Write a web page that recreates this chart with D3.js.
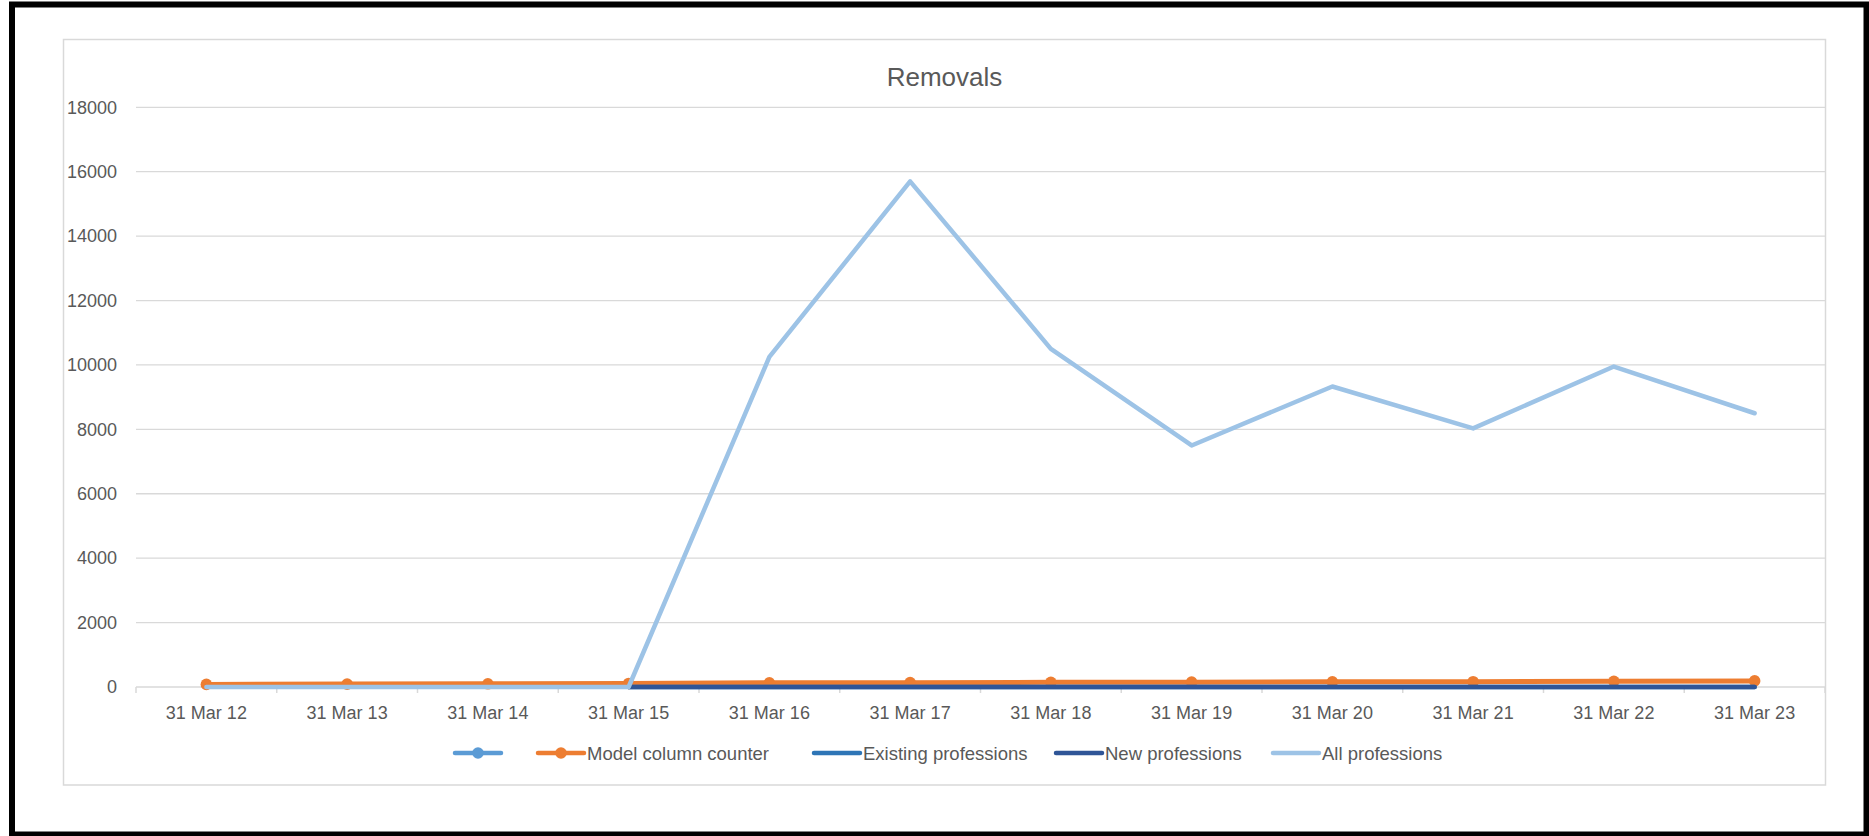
<!DOCTYPE html>
<html>
<head>
<meta charset="utf-8">
<script src="https://cdn.jsdelivr.net/npm/d3@7"></script>
<style>
  html, body { margin: 0; padding: 0; background: #ffffff; }
  svg { display: block; }
  text { font-family: "Liberation Sans", Arial, sans-serif; fill: #595959; }
</style>
</head>
<body>
<svg id="chart" width="1869" height="836"></svg>
<script>
// ---- Data ----
const categories = ["31 Mar 12","31 Mar 13","31 Mar 14","31 Mar 15","31 Mar 16","31 Mar 17",
                    "31 Mar 18","31 Mar 19","31 Mar 20","31 Mar 21","31 Mar 22","31 Mar 23"];
const unnamedSeries       = [null,null,null,null,null,null,null,null,null,null,null,null];
const modelColumnCounter  = [80, 90, 100, 110, 130, 135, 145, 150, 160, 165, 175, 190];
const existingProfessions = [null,null,null,0,0,0,0,0,0,0,0,0];
const newProfessions      = [null,null,null,0,0,0,0,0,0,0,0,0];
const allProfessions      = [0,0,0,0,10250,15700,10500,7500,9330,8030,9950,8500];
const yTicks = [0,2000,4000,6000,8000,10000,12000,14000,16000,18000];
const chartTitle = "Removals";

const series = [
  { name: "",                     values: unnamedSeries,       color: "#5B9BD5", width: 4.5, marker: true },
  { name: "Model column counter", values: modelColumnCounter,  color: "#ED7D31", width: 5,   marker: true },
  { name: "Existing professions", values: existingProfessions, color: "#2E75B6", width: 4.5, marker: false },
  { name: "New professions",      values: newProfessions,      color: "#2F5597", width: 4.5, marker: false },
  { name: "All professions",      values: allProfessions,      color: "#9DC3E6", width: 4.5, marker: false }
];

// ---- Layout ----
const svg = d3.select("#chart");
const plot = { left: 136, right: 1825, top: 107.3, bottom: 687 };

// outer black frame
svg.append("rect")
  .attr("x", 12).attr("y", 4.5).attr("width", 1854.5).attr("height", 830)
  .attr("fill", "none").attr("stroke", "#000").attr("stroke-width", 6);

// chart area border
svg.append("rect")
  .attr("x", 63.5).attr("y", 39.5).attr("width", 1762).attr("height", 745.5)
  .attr("fill", "#fff").attr("stroke", "#D9D9D9").attr("stroke-width", 1.5);

const x = d3.scaleBand().domain(categories).range([plot.left, plot.right]).padding(0);
const y = d3.scaleLinear().domain([0, 18000]).range([plot.bottom, plot.top]);
const cx = c => x(c) + x.bandwidth() / 2;

// title
svg.append("text")
  .attr("x", 944.5).attr("y", 86)
  .attr("text-anchor", "middle")
  .style("font-size", "26px")
  .text(chartTitle);

// gridlines
svg.append("g").selectAll("line")
  .data(yTicks.filter(t => t > 0))
  .join("line")
  .attr("x1", plot.left).attr("x2", plot.right)
  .attr("y1", d => y(d)).attr("y2", d => y(d))
  .attr("stroke", "#D9D9D9").attr("stroke-width", 1.3);

// y axis labels via d3 axis
const yAxis = svg.append("g")
  .attr("transform", `translate(${plot.left - 7},0)`)
  .call(d3.axisLeft(y).tickValues(yTicks).tickSize(0).tickPadding(12).tickFormat(d3.format("d")));
yAxis.select(".domain").remove();
yAxis.selectAll("text")
  .style("font-size", "18px")
  .style("font-family", "'Liberation Sans', Arial, sans-serif")
  .attr("fill", "#595959");

// x axis line + ticks at band boundaries
const xg = svg.append("g");
xg.append("line")
  .attr("x1", plot.left).attr("x2", plot.right)
  .attr("y1", y(0)).attr("y2", y(0))
  .attr("stroke", "#D9D9D9").attr("stroke-width", 1.5);
const boundaries = categories.map(c => x(c)).concat([plot.right]);
xg.selectAll("line.tick")
  .data(boundaries)
  .join("line")
  .attr("class", "tick")
  .attr("x1", d => d).attr("x2", d => d)
  .attr("y1", y(0)).attr("y2", y(0) + 6)
  .attr("stroke", "#D9D9D9").attr("stroke-width", 1.5);
xg.selectAll("text")
  .data(categories)
  .join("text")
  .attr("x", d => cx(d)).attr("y", 719)
  .attr("text-anchor", "middle")
  .style("font-size", "18px")
  .text(d => d);

// series lines
const lineGen = d3.line()
  .defined(d => d.v !== null)
  .x(d => cx(d.c))
  .y(d => y(d.v));

const sg = svg.append("g");
series.forEach(s => {
  const pts = categories.map((c, i) => ({ c, v: s.values[i] }));
  sg.append("path")
    .datum(pts)
    .attr("d", lineGen)
    .attr("fill", "none")
    .attr("stroke", s.color)
    .attr("stroke-width", s.width)
    .attr("stroke-linejoin", "round")
    .attr("stroke-linecap", "round");
  if (s.marker) {
    sg.append("g").selectAll("circle")
      .data(pts.filter(p => p.v !== null))
      .join("circle")
      .attr("cx", p => cx(p.c)).attr("cy", p => y(p.v))
      .attr("r", 5.8)
      .attr("fill", s.color);
  }
});

const legendStarts = [455, 538, 814, 1056, 1273];
const legY = 753;
const symLen = 46, textGap = 3;
const legend = svg.append("g");
series.forEach((s, i) => {
  const g = legend.append("g").attr("transform", `translate(${legendStarts[i]},${legY})`);
  g.append("line")
    .attr("x1", 0).attr("x2", symLen)
    .attr("y1", 0).attr("y2", 0)
    .attr("stroke", s.color).attr("stroke-width", 4.5)
    .attr("stroke-linecap", "round");
  if (s.marker) {
    g.append("circle").attr("cx", symLen / 2).attr("cy", 0).attr("r", 5.8).attr("fill", s.color);
  }
  if (s.name) {
    g.append("text")
      .attr("x", symLen + textGap).attr("y", 6.5)
      .style("font-size", "18.5px")
      .text(s.name);
  }
});
</script>
</body>
</html>
